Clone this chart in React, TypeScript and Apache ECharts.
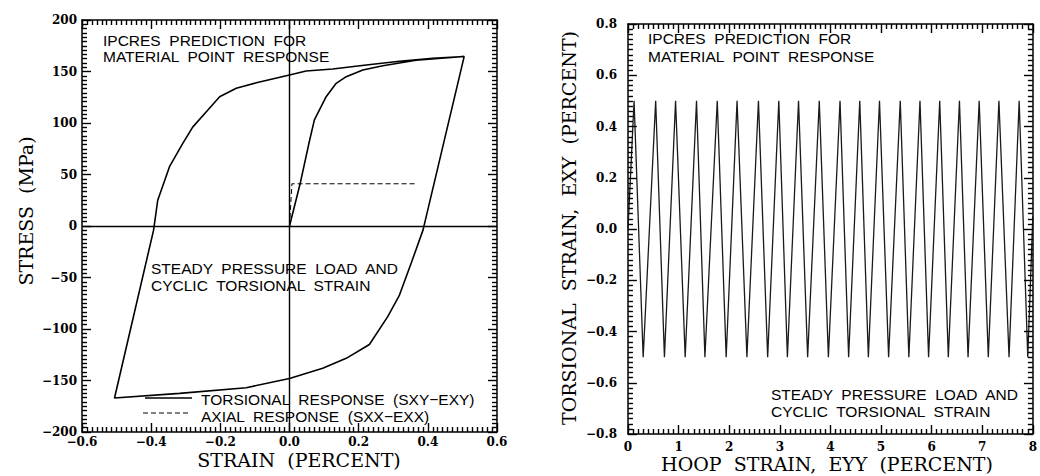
import React, { useEffect, useRef } from 'react';
import * as echarts from 'echarts';

// ---- Left panel: stress-strain response ----
const torsionalStrain = [
  0, 0.03, 0.058, 0.072, 0.106, 0.135, 0.164, 0.212, 0.27, 0.366, 0.44, 0.505,
  0.386, 0.352, 0.318, 0.284, 0.231, 0.164, 0.096, 0, -0.125, -0.318, -0.506,
  -0.393, -0.381, -0.347, -0.309, -0.28, -0.236, -0.202, -0.154, -0.096, 0, 0.048,
  0.125, 0.222, 0.318, 0.414, 0.505,
];
const torsionalStress = [
  0, 40, 83, 103, 125.5, 138.5, 145, 151.5, 155.6, 161, 163, 164.5,
  -4, -36, -67, -88, -115, -128.5, -138, -148, -157, -162.5, -167,
  -4, 25, 57.6, 80, 96, 112.6, 125.5, 133.7, 139, 146.6, 150.5,
  152.4, 156.3, 160, 162.8, 164.5,
];
const axialStrain = [0, 0.007, 0.37];
const axialStress = [0, 41, 41];

const strainMin = -0.6, strainMax = 0.6, strainStep = 0.2, strainMinorSplit = 14;
const stressMin = -200, stressMax = 200, stressStep = 50, stressMinorSplit = 12;

// ---- Right panel: hoop vs torsional strain ----
const hoopStrain = [
  0, 0.12, 0.30, 0.547, 0.72, 0.94, 1.13, 1.354, 1.52, 1.764, 1.94, 2.155, 2.35,
  2.578, 2.76, 2.98, 3.15, 3.37, 3.55, 3.78, 3.96, 4.19, 4.36, 4.58, 4.75, 4.97,
  5.15, 5.38, 5.55, 5.77, 5.94, 6.16, 6.33, 6.55, 6.72, 6.94, 7.12, 7.33, 7.53,
  7.73, 7.9, 8.0,
];
const torsionalStrainExy = [
  0, 0.5, -0.5, 0.5, -0.5, 0.5, -0.5, 0.5, -0.5, 0.5, -0.5, 0.5, -0.5,
  0.5, -0.5, 0.5, -0.5, 0.5, -0.5, 0.5, -0.5, 0.5, -0.5, 0.5, -0.5, 0.5,
  -0.5, 0.5, -0.5, 0.5, -0.5, 0.5, -0.5, 0.5, -0.5, 0.5, -0.5, 0.5, -0.5,
  0.5, -0.5, 0.05,
];
const hoopMin = 0, hoopMax = 8, hoopStep = 1, hoopMinorSplit = 10;
const exyMin = -0.8, exyMax = 0.8, exyStep = 0.2, exyMinorSplit = 10;

const titleLines = ['IPCRES  PREDICTION  FOR', 'MATERIAL  POINT  RESPONSE'];
const loadLines = ['STEADY  PRESSURE  LOAD  AND', 'CYCLIC  TORSIONAL  STRAIN'];
const legendLabels = ['TORSIONAL  RESPONSE  (SXY−EXY)', 'AXIAL  RESPONSE  (SXX−EXX)'];

const SERIF = '"DejaVu Serif", serif';
const SANS = '"Liberation Sans", Arial, sans-serif';

// grid boxes (pixels)
const leftGrid = { left: 82, top: 20, width: 415, height: 412 };
const rightGrid = { left: 628, top: 24, width: 410, height: 410 };
const MAJOR_PX = 9;
const MINOR_PX = 5;

const fmt = (digits: number) => (v: number) => {
  const r = Math.round(v * 1000) / 1000;
  const s = Math.abs(r).toFixed(digits);
  return r < 0 ? '−' + s : s;
};

const clampTo = (v: number, lo: number, hi: number) => Math.min(hi, Math.max(lo, Math.round(v * 1e9) / 1e9));

// inward tick segments on all four sides, in data coordinates
function tickMarkLines(
  xMin: number, xMax: number, xStep: number, xSub: number,
  yMin: number, yMax: number, yStep: number, ySub: number,
  gridW: number, gridH: number,
) {
  const xPerPx = (xMax - xMin) / gridW;
  const yPerPx = (yMax - yMin) / gridH;
  const out: any[] = [];
  const nx = Math.round(((xMax - xMin) / xStep) * xSub);
  for (let i = 0; i <= nx; i++) {
    const v = clampTo(xMin + (i * xStep) / xSub, xMin, xMax);
    const len = (i % xSub === 0 ? MAJOR_PX : MINOR_PX) * yPerPx;
    out.push([{ coord: [v, yMin] }, { coord: [v, yMin + len] }]);
    out.push([{ coord: [v, yMax] }, { coord: [v, yMax - len] }]);
  }
  const ny = Math.round(((yMax - yMin) / yStep) * ySub);
  for (let i = 0; i <= ny; i++) {
    const v = clampTo(yMin + (i * yStep) / ySub, yMin, yMax);
    const len = (i % ySub === 0 ? MAJOR_PX : MINOR_PX) * xPerPx;
    out.push([{ coord: [xMin, v] }, { coord: [xMin + len, v] }]);
    out.push([{ coord: [xMax, v] }, { coord: [xMax - len, v] }]);
  }
  return out;
}

function axisBase(min: number, max: number, interval: number) {
  return {
    type: 'value' as const,
    min,
    max,
    interval,
    splitLine: { show: false },
    axisLine: { show: true, onZero: false, lineStyle: { color: '#000', width: 1.5 } },
    axisTick: { show: false },
    minorTick: { show: false },
  };
}

const labelStyle = { color: '#000', fontFamily: SERIF, fontSize: 12, lineHeight: 12, fontWeight: 'bold' as const };

function txt(text: string, x: number, y: number, font: string, rotation = 0, align = 'left') {
  return {
    type: 'text',
    x,
    y,
    rotation,
    silent: true,
    style: {
      text,
      font,
      fill: '#000',
      align,
      textAlign: align,
      verticalAlign: 'middle',
      textVerticalAlign: 'middle',
    },
  };
}

export default function App() {
  const ref = useRef<HTMLDivElement>(null);
  useEffect(() => {
    if (!ref.current) return;
    const chart = echarts.init(ref.current, undefined, { renderer: 'svg' });
    const sansFont = `15.5px ${SANS}`;
    const nameFont = `19px ${SERIF}`;
    const leftTicks = tickMarkLines(
      strainMin, strainMax, strainStep, strainMinorSplit,
      stressMin, stressMax, stressStep, stressMinorSplit,
      leftGrid.width, leftGrid.height,
    );
    const rightTicks = tickMarkLines(
      hoopMin, hoopMax, hoopStep, hoopMinorSplit,
      exyMin, exyMax, exyStep, exyMinorSplit,
      rightGrid.width, rightGrid.height,
    );
    chart.setOption({
      animation: false,
      backgroundColor: '#fff',
      grid: [
        { ...leftGrid, show: false },
        { ...rightGrid, show: false },
      ],
      xAxis: [
        {
          ...axisBase(strainMin, strainMax, strainStep),
          gridIndex: 0,
          position: 'bottom',
          axisLabel: { ...labelStyle, margin: 4, formatter: fmt(1), showMinLabel: true, showMaxLabel: true },
        },
        { ...axisBase(strainMin, strainMax, strainStep), gridIndex: 0, position: 'top', axisLabel: { show: false } },
        {
          ...axisBase(hoopMin, hoopMax, hoopStep),
          gridIndex: 1,
          position: 'bottom',
          axisLabel: { ...labelStyle, margin: 7, formatter: fmt(0), showMinLabel: true, showMaxLabel: true },
        },
        { ...axisBase(hoopMin, hoopMax, hoopStep), gridIndex: 1, position: 'top', axisLabel: { show: false } },
      ],
      yAxis: [
        {
          ...axisBase(stressMin, stressMax, stressStep),
          gridIndex: 0,
          position: 'left',
          axisLabel: { ...labelStyle, margin: 5, formatter: fmt(0), showMinLabel: true, showMaxLabel: true },
        },
        { ...axisBase(stressMin, stressMax, stressStep), gridIndex: 0, position: 'right', axisLabel: { show: false } },
        {
          ...axisBase(exyMin, exyMax, exyStep),
          gridIndex: 1,
          position: 'left',
          axisLabel: { ...labelStyle, margin: 11, formatter: fmt(1), showMinLabel: true, showMaxLabel: true },
        },
        { ...axisBase(exyMin, exyMax, exyStep), gridIndex: 1, position: 'right', axisLabel: { show: false } },
      ],
      series: [
        {
          name: legendLabels[0],
          type: 'line',
          xAxisIndex: 0,
          yAxisIndex: 0,
          data: torsionalStrain.map((x, i) => [x, torsionalStress[i]]),
          showSymbol: false,
          symbol: 'none',
          lineStyle: { color: '#000', width: 1.6 },
          markLine: {
            silent: true,
            symbol: 'none',
            label: { show: false },
            lineStyle: { color: '#000', width: 1.4, type: 'solid' },
            data: [{ xAxis: 0 }, { yAxis: 0 }, ...leftTicks],
          },
        },
        {
          name: legendLabels[1],
          type: 'line',
          xAxisIndex: 0,
          yAxisIndex: 0,
          data: axialStrain.map((x, i) => [x, axialStress[i]]),
          showSymbol: false,
          symbol: 'none',
          lineStyle: { color: '#000', width: 1, type: [5, 3] },
        },
        {
          name: 'EXY',
          type: 'line',
          xAxisIndex: 2,
          yAxisIndex: 2,
          data: hoopStrain.map((x, i) => [x, torsionalStrainExy[i]]),
          showSymbol: false,
          symbol: 'none',
          clip: true,
          lineStyle: { color: '#1a1a1a', width: 1.3 },
          markLine: {
            silent: true,
            symbol: 'none',
            label: { show: false },
            lineStyle: { color: '#000', width: 1.4, type: 'solid' },
            data: rightTicks,
          },
        },
      ],
      graphic: [
        txt('STRESS  (MPa)', 26, 211, nameFont, Math.PI / 2, 'center'),
        txt('STRAIN  (PERCENT)', 299, 460, nameFont, 0, 'center'),
        txt('TORSIONAL  STRAIN,  EXY  (PERCENT)', 569, 228, nameFont, Math.PI / 2, 'center'),
        txt('HOOP  STRAIN,  EYY  (PERCENT)', 827, 464, nameFont, 0, 'center'),
        txt(titleLines[0], 103, 40, sansFont),
        txt(titleLines[1], 103, 56, sansFont),
        txt(loadLines[0], 151, 268, sansFont),
        txt(loadLines[1], 151, 285, sansFont),
        {
          type: 'line',
          silent: true,
          shape: { x1: 145, y1: 398, x2: 192, y2: 398 },
          style: { stroke: '#000', lineWidth: 1.3 },
        },
        {
          type: 'line',
          silent: true,
          shape: { x1: 143, y1: 413, x2: 190, y2: 413 },
          style: { stroke: '#000', lineWidth: 1, lineDash: [5, 3] },
        },
        txt(legendLabels[0], 201, 399, sansFont),
        txt(legendLabels[1], 201, 416, sansFont),
        txt(titleLines[0], 648, 38, sansFont),
        txt(titleLines[1], 648, 56, sansFont),
        txt(loadLines[0], 771, 394, sansFont),
        txt(loadLines[1], 771, 411, sansFont),
      ],
    });
    return () => chart.dispose();
  }, []);
  return (
    <div
      ref={ref}
      style={{ position: 'absolute', left: 0, top: 0, width: 1040, height: 476, background: '#fff' }}
    />
  );
}
